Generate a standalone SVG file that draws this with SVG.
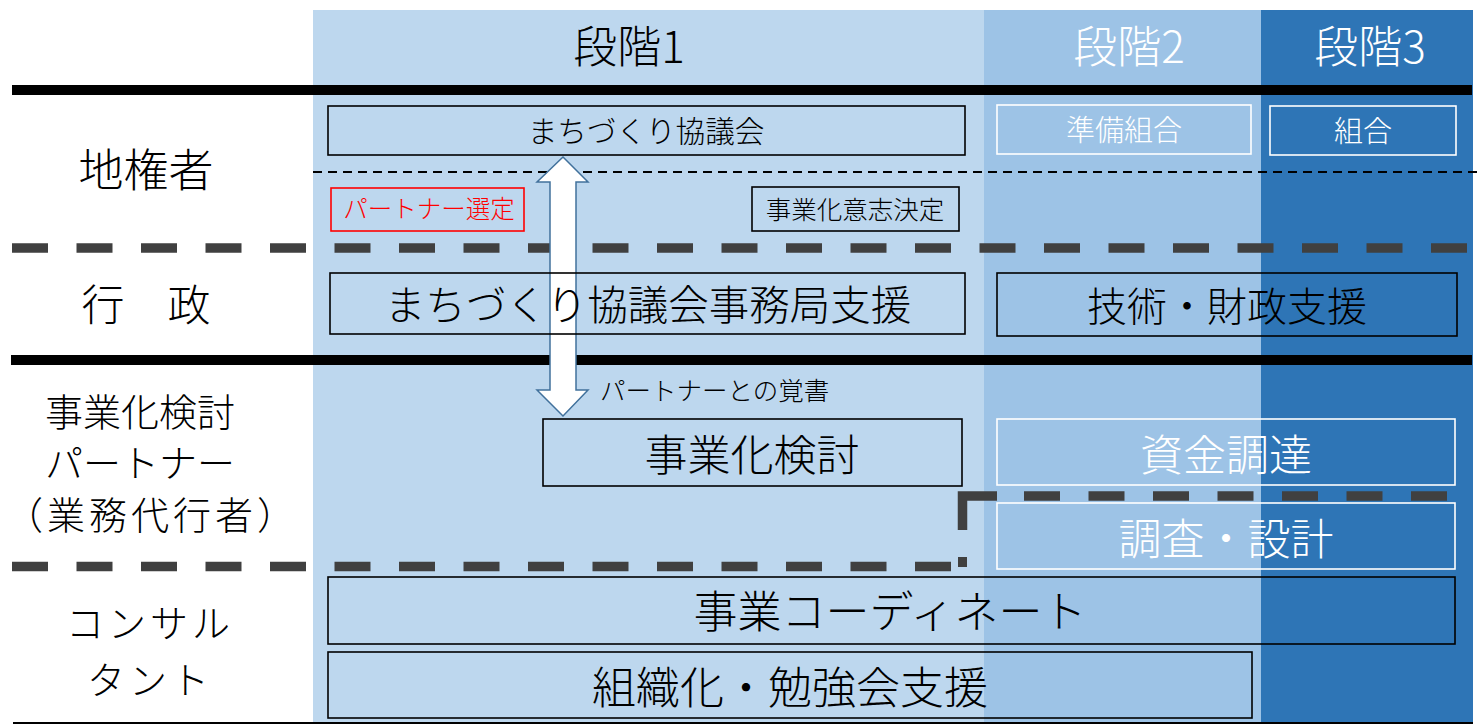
<svg xmlns="http://www.w3.org/2000/svg" width="1478" height="724" viewBox="0 0 1478 724">
<style>
text{font-family:"Noto Sans CJK JP","Noto Sans",sans-serif;font-weight:300;dominant-baseline:central;text-anchor:middle;fill:#000}
.w{fill:#fff}
.r{fill:#ff0000}
.bk{fill:none;stroke:#000;stroke-width:1.6}
.wb{fill:none;stroke:#fff;stroke-width:1.6}
.thick{stroke:#000;stroke-width:10}
.dash{fill:none;stroke:#404040;stroke-width:9.5;stroke-dasharray:36 28.5}
</style>
<rect x="0" y="0" width="1478" height="724" fill="#fff"/>
<g id="stages">
<rect x="313" y="10" width="672" height="714" fill="#BDD7EE"/>
<rect x="984" y="10" width="278" height="714" fill="#9DC3E6"/>
<rect x="1261" y="10" width="212" height="714" fill="#2E75B6"/>
<text x="629" y="44" font-size="44">段階1</text>
<text x="1129" y="44" font-size="44" class="w">段階2</text>
<text x="1370" y="44" font-size="44" class="w">段階3</text>
</g>
<g id="separators">
<line x1="12" y1="90" x2="1472" y2="90" class="thick"/>
<line x1="313" y1="172" x2="1478" y2="172" stroke="#000" stroke-width="2" stroke-dasharray="9 6"/>
<path d="M12 248 H1467" class="dash"/>
<line x1="11" y1="360" x2="1472" y2="360" class="thick"/>
<path d="M12 566.5 H951" class="dash"/>
<rect x="958" y="557" width="9" height="10" fill="#404040"/>
<path d="M962.5 530 V496 H997" fill="none" stroke="#404040" stroke-width="9.5"/>
<path d="M1024 496 H1448" class="dash"/>
<line x1="13" y1="723" x2="1473" y2="723" stroke="#000" stroke-width="2"/>
</g>
<g id="labels">
<text x="146" y="167" font-size="45">地権者</text>
<text x="146" y="302" font-size="43">行　政</text>
<text x="140" y="409" font-size="38">事業化検討</text>
<text x="140" y="460" font-size="38">パートナー</text>
<text x="152" y="512" font-size="38" letter-spacing="4">（業務代行者）</text>
<text x="150" y="620" font-size="38" letter-spacing="4">コンサル</text>
<text x="150" y="677" font-size="38" letter-spacing="4">タント</text>
</g>
<g id="connectors">
<polygon points="563,157 588,182 576,182 576,390 588,390 563,416 537,390 550,390 550,182 537,182" fill="#fff" stroke="#41719C" stroke-width="1.5"/>
<text x="600" y="388" font-size="25.5" style="text-anchor:start">パートナーとの覚書</text>
</g>
<g id="n-kyogikai"><rect x="328" y="106" width="637" height="49" class="bk"/><text x="646" y="129" font-size="29.6">まちづくり協議会</text></g>
<g id="n-junbi"><rect x="997" y="105" width="254" height="49" class="wb"/><text x="1124" y="128" font-size="29" class="w">準備組合</text></g>
<g id="n-kumiai"><rect x="1270" y="106" width="186" height="49" class="wb"/><text x="1363" y="129" font-size="29" class="w">組合</text></g>
<g id="n-partner"><rect x="331" y="188" width="193" height="43" fill="none" stroke="#ff0000" stroke-width="1.6"/><text x="429" y="207" font-size="24.5" class="r">パートナー選定</text></g>
<g id="n-ishi"><rect x="752" y="187" width="207" height="44" class="bk"/><text x="855" y="207" font-size="25.5">事業化意志決定</text></g>
<g id="n-jimukyoku"><rect x="330" y="273" width="635" height="61" class="bk"/><text x="648" y="302" font-size="40.5">まちづくり協議会事務局支援</text></g>
<g id="n-gijutsu"><rect x="997" y="273" width="460" height="63" class="bk"/><text x="1227" y="304" font-size="40">技術・財政支援</text></g>
<g id="n-kento"><rect x="543" y="419" width="419" height="67" class="bk"/><text x="752" y="452" font-size="43">事業化検討</text></g>
<g id="n-shikin"><rect x="997" y="419" width="458" height="66" class="wb"/><text x="1226" y="452" font-size="43" class="w">資金調達</text></g>
<g id="n-chosa"><rect x="997" y="503" width="458" height="66" class="wb"/><text x="1226" y="536" font-size="43" class="w">調査・設計</text></g>
<g id="n-coord"><rect x="328" y="577" width="1127" height="67" class="bk"/><text x="890" y="609" font-size="44">事業コーディネート</text></g>
<g id="n-soshiki"><rect x="328" y="652" width="924" height="66" class="bk"/><text x="790" y="685" font-size="44">組織化・勉強会支援</text></g>
</svg>
